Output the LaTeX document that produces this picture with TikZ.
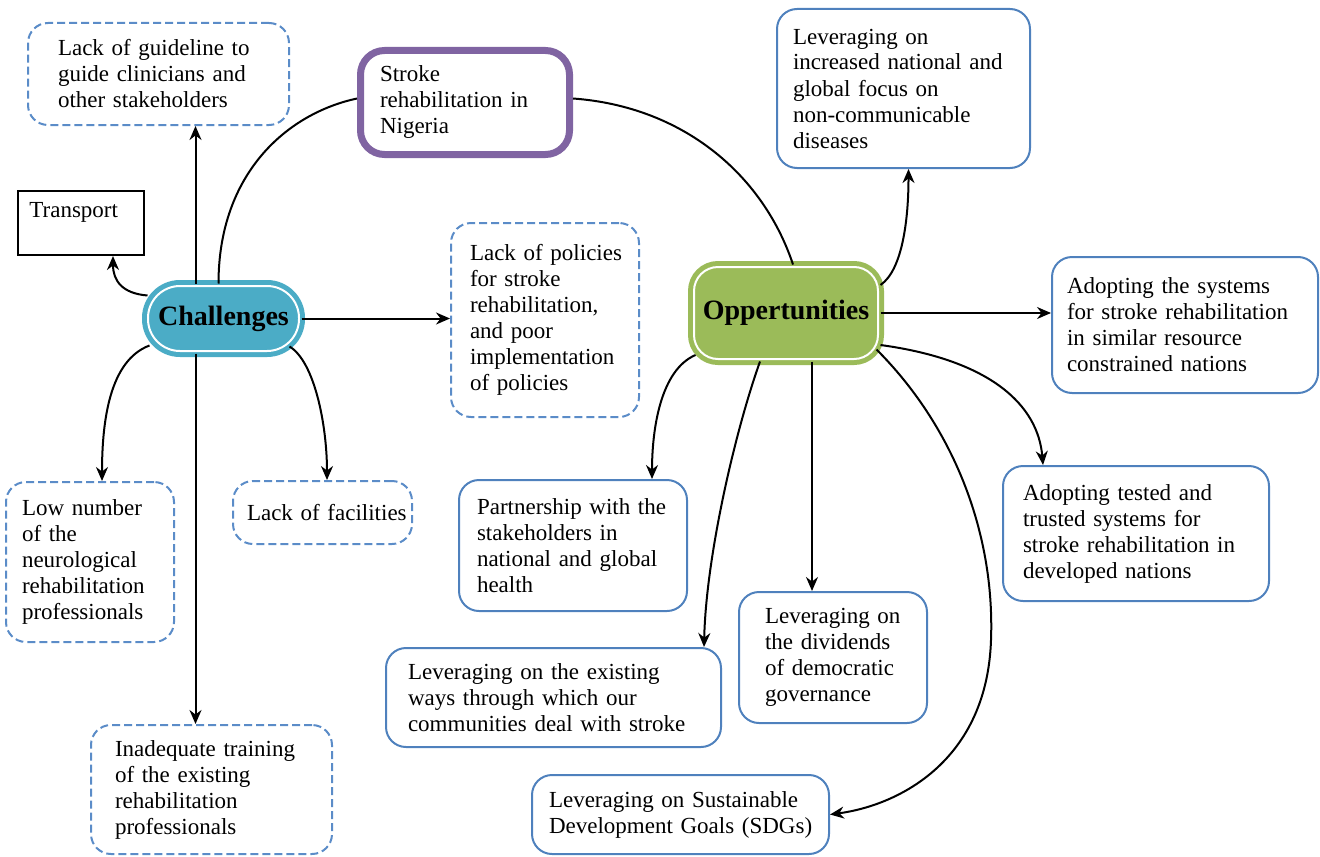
\documentclass[tikz,border=0pt]{standalone}
\usepackage{fontspec}
\setmainfont{Liberation Serif}
\usetikzlibrary{arrows.meta,calc}
\definecolor{boxblue}{HTML}{4F81BD}
\definecolor{dashblue}{HTML}{5B8CC8}
\definecolor{purp}{HTML}{8064A2}
\definecolor{chalfill}{HTML}{4BACC6}
\definecolor{oppfill}{HTML}{9BBB59}
\tikzset{
 txt/.style={font=\fontsize{11.5}{13}\selectfont, align=left, inner sep=0pt},
 dashbox/.style={txt, draw=dashblue, line width=1pt, dash pattern=on 4pt off 2pt, rounded corners=10pt},
 solidbox/.style={txt, draw=boxblue, line width=1pt, rounded corners=10pt},
 hub/.style={font=\fontsize{14}{16}\selectfont\bfseries, inner sep=0pt, line width=2.5pt, double=white, double distance=1pt},
 conn/.style={line width=1pt},
 arr/.style={conn, -{Stealth[length=7pt,width=6pt]}},
}
\hbadness=10000 \hfuzz=1000pt
\begin{document}
\begin{tikzpicture}[x=0.5pt,y=-0.5pt]
\useasboundingbox (0,0) rectangle (1320,856);

% nodes
\node[dashbox, minimum width=130.5pt, minimum height=51pt, text width=100.5pt] (guide) at (158.5,74) {\mbox{Lack of guideline to}\\\mbox{guide clinicians and}\\\mbox{other stakeholders}};
\node[txt, draw=purp, line width=3.5pt, rounded corners=12pt, minimum width=104.5pt, minimum height=52pt, text width=85pt] (stroke) at (465,102.5) {\mbox{Stroke}\\\mbox{rehabilitation in}\\\mbox{Nigeria}};
\node[draw=black, line width=1pt, minimum width=63pt, minimum height=32pt, inner sep=0pt] (transport) at (81,223) {};
\node[txt, anchor=north west] (transporttext) at ($(transport.north west)+(12,12)$) {Transport};
\node[hub, draw=chalfill, fill=chalfill, rounded corners=16pt, minimum width=75.5pt, minimum height=32.5pt] (chal) at (223.5,318.5) {Challenges};
\node[dashbox, minimum width=94pt, minimum height=97pt, text width=75pt] (policies) at (545,320) {\mbox{Lack of policies}\\\mbox{for stroke}\\\mbox{rehabilitation,}\\\mbox{and poor}\\\mbox{implementation}\\\mbox{of policies}};
\node[hub, draw=oppfill, fill=oppfill, rounded corners=12pt, minimum width=92pt, minimum height=46pt] (opp) at (786,313) {Oppertunities};
\node[solidbox, minimum width=126.5pt, minimum height=79.5pt, text width=110.5pt] (increased) at (903.5,88.5) {\mbox{Leveraging on}\\\mbox{increased national and}\\\mbox{global focus on}\\\mbox{non-communicable}\\\mbox{diseases}};
\node[solidbox, minimum width=133pt, minimum height=68pt, text width=118pt] (adopt) at (1185,325) {\mbox{Adopting the systems}\\\mbox{for stroke rehabilitation}\\\mbox{in similar resource}\\\mbox{constrained nations}};
\node[solidbox, minimum width=133pt, minimum height=67.5pt, text width=113pt] (tested) at (1136,533.5) {\mbox{Adopting tested and}\\\mbox{trusted systems for}\\\mbox{stroke rehabilitation in}\\\mbox{developed nations}};
\node[dashbox, minimum width=84pt, minimum height=80pt, text width=68pt] (low) at (90,562) {\mbox{Low number}\\\mbox{of the}\\\mbox{neurological}\\\mbox{rehabilitation}\\\mbox{professionals}};
\node[dashbox, minimum width=89.5pt, minimum height=31.5pt, text width=75.5pt] (facilities) at (322.5,512.5) {\mbox{Lack of facilities}};
\node[dashbox, minimum width=120.5pt, minimum height=64.5pt, text width=96.5pt] (inadequate) at (211.5,789.5) {\mbox{Inadequate training}\\\mbox{of the existing}\\\mbox{rehabilitation}\\\mbox{professionals}};
\node[solidbox, minimum width=114pt, minimum height=65.5pt, text width=96pt] (partner) at (573,545.5) {\mbox{Partnership with the}\\\mbox{stakeholders in}\\\mbox{national and global}\\\mbox{health}};
\node[solidbox, minimum width=94pt, minimum height=65.5pt, text width=68pt] (dividends) at (833,657.5) {\mbox{Leveraging on}\\\mbox{the dividends}\\\mbox{of democratic}\\\mbox{governance}};
\node[solidbox, minimum width=167.5pt, minimum height=49.5pt, text width=145.5pt] (ways) at (553.5,697.5) {\mbox{Leveraging on the existing}\\\mbox{ways through which our}\\\mbox{communities deal with stroke}};
\node[solidbox, minimum width=148.5pt, minimum height=39.5pt, text width=131.5pt] (sdgs) at (680.5,814.5) {\mbox{Leveraging on Sustainable}\\\mbox{Development Goals (SDGs)}};

% connectors
\coordinate (c1) at ($(chal.north)+(-28,0)$);
\draw[arr] (c1) -- (c1 |- guide.south);
\draw[conn] ($(chal.north)+(-5,0)$) .. controls +(0,-110) and +(-70,15) .. ($(stroke.west)+(0,-4)$);
\draw[conn] ($(stroke.east)+(0,-4)$) .. controls +(110,8) and +(-30,-90) .. ($(opp.north)+(7,0)$);
\draw[arr] ($(chal.west)+(2,-23)$) .. controls +(-25,-2) and +(0,25) .. ($(transport.south)+(32,0)$);
\draw[arr] (chal.east) -- (chal.east -| policies.west);
\draw[arr] ($(chal.west)+(4,27)$) .. controls +(-40,15) and +(0,-60) .. ($(low.north)+(12,0)$);
\coordinate (c2) at ($(chal.south)+(-28,0)$);
\draw[arr] (c2) -- (c2 |- inadequate.north);
\draw[arr] ($(chal.east)+(-12,28)$) .. controls +(25,15) and +(0,-55) .. ($(facilities.north)+(4.5,0)$);

\draw[arr] ($(opp.east)+(0,-28)$) .. controls +(22,-15) and +(0,50) .. ($(increased.south)+(5,0)$);
\draw[arr] (opp.east) -- (opp.east -| adopt.west);
\draw[arr] ($(opp.east)+(0,32)$) .. controls +(110,15) and +(-5,-60) .. ($(tested.north)+(-93,0)$);
\coordinate (sdgbend) at (991,640);
\draw[arr] ($(opp.south east)+(-4,-12)$) .. controls +(75,75) and (995,530) .. (sdgbend) .. controls (987,760) and (900,805) .. (sdgs.east);
\coordinate (c3) at ($(opp.south)+(26,0)$);
\draw[arr] (c3) -- (c3 |- dividends.north);
\draw[arr] ($(opp.south)+(-26,0)$) .. controls +(-25,70) and +(2,-90) .. ($(ways.north)+(150.5,0)$);
\draw[arr] ($(opp.west)+(4,42)$) .. controls +(-35,15) and +(0,-50) .. ($(partner.north)+(79,0)$);
\end{tikzpicture}
\end{document}
